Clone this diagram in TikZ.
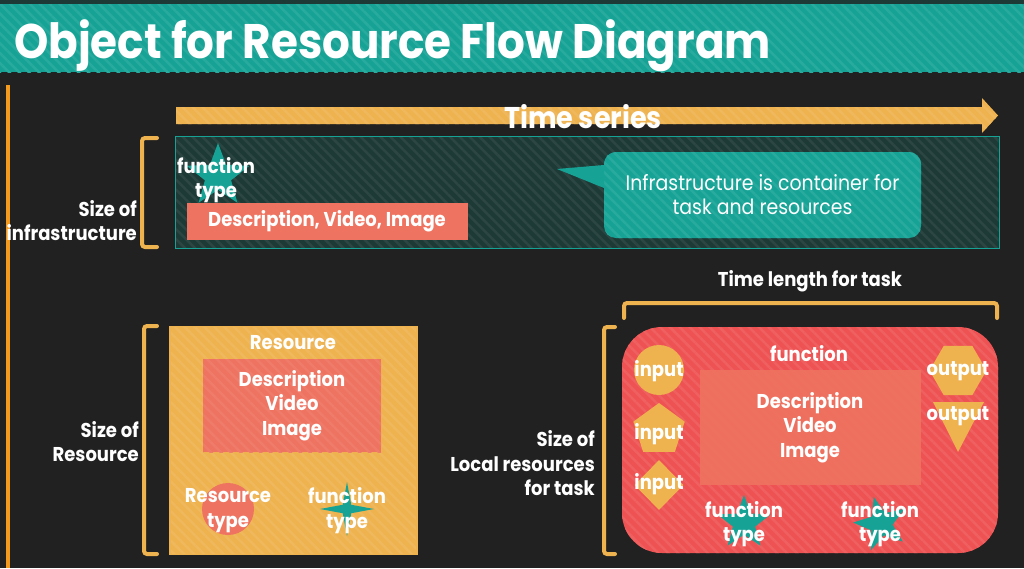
\documentclass[tikz,border=0pt]{standalone}
\usepackage{fontspec}
\setmainfont[FakeStretch=0.9]{Poppins}
\usetikzlibrary{positioning, shapes.geometric, shapes.arrows, patterns.meta, calc}
\definecolor{color1}{RGB}{22,163,150}
\definecolor{color2}{RGB}{238,178,79}
\definecolor{color3}{RGB}{238,82,83}
\definecolor{color4}{RGB}{238,115,96}
\definecolor{color5}{RGB}{33,33,33}
\definecolor{color6}{RGB}{30,58,55}
\definecolor{color7}{RGB}{243,154,31}
\tikzset{
  stripes/.style={postaction={pattern={Lines[angle=-45, distance=7pt, line width=2.5pt]}, pattern color=#1}},
  bracket/.style={draw=color2, line width=4pt, rounded corners=3pt, line cap=round},
  label/.style={text=white, font=\fontsize{20}{24.5}\selectfont\bfseries, align=center, inner sep=0pt},
  side/.style={label, align=right, anchor=east},
  star5/.style={star, star points=5, star point ratio=2.4, fill=color1, inner sep=0pt}
}
\begin{document}
\begin{tikzpicture}[x=1pt, y=-1pt]
		\useasboundingbox (0,0) rectangle (1024,568);
		\fill[color5] (0,0) rectangle (1024,568);
		% title band
		\fill[color1, stripes=color1!92!white] (0,0) rectangle (1024,72);
		\fill[color6] (0,0) rectangle (1024,4);
		\node[anchor=base west, text=white, inner sep=0pt, font=\fontsize{48.5}{48.5}\selectfont\bfseries] (title) at (14,58) {Object for Resource Flow Diagram};
		\draw[color7, line width=4pt] (8,85) -- (8,568);
		
		% time series and infrastructure
		\fill[color2, stripes=color2!92!white] (176,107) -- (982,107) -- (982,98) -- (998,115.5) -- (982,133) -- (982,124) -- (176,124) -- cycle;
		\node[label, font=\fontsize{30}{30}\selectfont\bfseries] (time) at (583,117) {Time series};
		\node[fill=color6, stripes=color6!94!white, minimum width=823pt, minimum height=111pt, inner sep=0pt] (infra) at (587,192) {};
		\draw[color1] (infra.north west) rectangle (infra.south east);
		\draw[bracket] (157,138) -- (142,138) -- (142,247) -- (157,247);
		\node[side] (sizeinfra) at (137,220.5) {Size of\\infrastructure};
		\node[star5, minimum size=66pt] (infrastar) at (218,176) {};
		\node[fill=color4, minimum width=281pt, minimum height=37pt, inner sep=0pt] (infradesc) at (327,221.5) {};
		\node[label] (infratype) at (216,180) {function\\type};
		\node[label] at (infradesc) {Description, Video, Image};
		\node[fill=color1, stripes=color1!92!white, rounded corners=12pt, minimum width=317pt, minimum height=86pt, inner sep=0pt] (note) at (762.5,195) {};
		\fill[color1] (604,165) -- (557,169) -- (604,188) -- cycle;
		\node[text=white, font=\fontsize{21}{24}\selectfont, align=center, inner sep=0pt] (notetext) at (note) {Infrastructure is container for\\task and resources};
		
		% resource
		\node[fill=color2, stripes=color2!92!white, minimum width=247pt, minimum height=228pt, inner sep=0pt] (res) at (293.5,440.5) {};
		\draw[color2, line width=1.5pt] (res.north west) rectangle (res.south east);
		\draw[bracket] (157,326) -- (144,326) -- (144,554) -- (157,554);
		\node[side] (sizeres) at (139,441.5) {Size of\\Resource};
		\node[label] (restitle) at (293,343) {Resource};
		\node[fill=color4, stripes=color4!94!white, minimum width=178pt, minimum height=93pt, inner sep=0pt] (resdesc) at (292,405.5) {};
		\node[label] at (resdesc) {Description\\Video\\Image};
		\node[circle, fill=color4, minimum size=52pt, inner sep=0pt] (rescircle) at (228,509) {};
		\node[label] (restype) at (228,510.5) {Resource\\type};
		\node[star, star points=4, star point ratio=4.5, fill=color1, minimum size=54pt, inner sep=0pt] (resstar) at (347,509) {};
		\node[label] (resfunc) at (347,510.5) {function\\type};
		
		% task
		\node[label] (timelen) at (810,281) {Time length for task};
		\draw[bracket] (624,318) -- (624,303) -- (997,303) -- (997,318);
		\node[fill=color3, stripes=color3!92!white, rounded corners=40pt, minimum width=376pt, minimum height=226pt, inner sep=0pt] (task) at (810,440) {};
		\draw[bracket] (615,327) -- (604,327) -- (604,554) -- (615,554);
		\node[side] (sizetask) at (595,463.5) {Size of\\Local resources\\for task};
		\node[label] (taskfunc) at (809,354) {function};
		\node[fill=color4, fill opacity=0.9, minimum width=221pt, minimum height=115pt, inner sep=0pt] (taskdesc) at (810,427.5) {};
		\node[label] at (taskdesc) {Description\\Video\\Image};
		\node[circle, fill=color2, minimum size=50pt, inner sep=0pt] (in1) at (659,370) {};
		\node[regular polygon, regular polygon sides=5, fill=color2, minimum size=54pt, inner sep=0pt] (in2) at (659,430) {};
		\node[diamond, fill=color2, minimum width=49pt, minimum height=50pt, inner sep=0pt] (in3) at (659,485) {};
		\node[regular polygon, regular polygon sides=6, fill=color2, minimum size=57pt, inner sep=0pt] (out1) at (958,370.5) {};
		\fill[color2] (933,402) -- (984,402) -- (958,452) -- cycle;
		\node[label] at (659,371) {input};
		\node[label] at (659,434) {input};
		\node[label] at (659,484) {input};
		\node[label] at (958,371) {output};
		\node[label] at (958,416) {output};
		\node[star5, minimum size=56pt] (star1) at (744,523) {};
		\node[star5, minimum size=56pt, rotate=15] (star2) at (881,524) {};
		\node[label] (type1) at (744,524) {function\\type};
		\node[label] (type2) at (880,524) {function\\type};
		
		\end{tikzpicture}
\end{document}
